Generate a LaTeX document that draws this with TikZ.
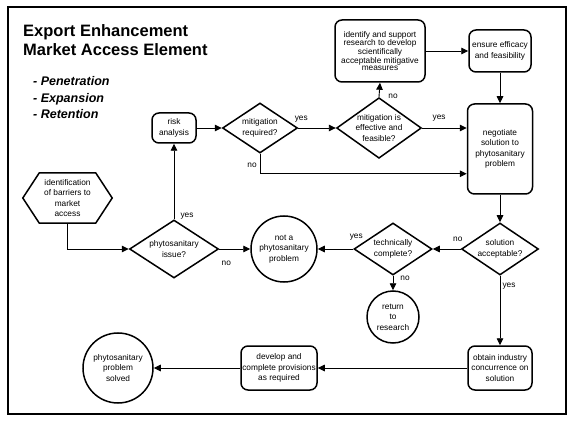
\documentclass[tikz,border=0pt]{standalone}
\usepackage{fontspec}
\setmainfont{Liberation Sans}
\usetikzlibrary{arrows.meta, positioning, calc, shapes.geometric}

\newcommand{\flowfont}{\fontsize{8.3}{10.5}\selectfont}
\newcommand{\tightfont}{\fontsize{8.3}{7.6}\selectfont}

\begin{document}
\begin{tikzpicture}[
    x=1pt, y=-1pt,
    box/.style={rectangle, rounded corners=7pt, draw=black, line width=1.5pt, align=center, inner sep=0pt, font=\flowfont},
    decision/.style={diamond, draw=black, line width=1.5pt, align=center, inner sep=0pt, shape aspect=1.4, font=\flowfont},
    terminal/.style={circle, draw=black, line width=1.5pt, align=center, inner sep=0pt, font=\flowfont},
    arrow/.style={-{Triangle[length=7pt, width=6.5pt]}, line width=0.9pt},
    branch_label/.style={font=\flowfont, inner sep=1pt},
    title_text/.style={anchor=base west, font=\fontsize{16.5}{19}\selectfont\bfseries, inner sep=0pt},
    list_text/.style={anchor=base west, font=\fontsize{12.5}{14}\selectfont\bfseries\itshape, inner sep=0pt}
]
    % ========== PAGE AND FRAME ==========
    \fill[white] (0,0) rectangle (573,422);
    \useasboundingbox (0,0) rectangle (573,422);
    \draw[line width=1.2pt] (8,7) rectangle (566,414);

    % Title and list
    \node[title_text] (title_a) at (23,37) {Export Enhancement};
    \node[title_text] (title_b) at (23,56) {Market Access Element};
    \node[list_text] (item_a) at (33,86) {- Penetration};
    \node[list_text] (item_b) at (33,102.5) {- Expansion};
    \node[list_text] (item_c) at (33,119) {- Retention};

    % ========== TOP ROW ==========
    \node[box, minimum width=44pt, minimum height=30pt] (risk_box) at (174,128) {risk\\analysis};
    \node[decision, minimum width=75pt, minimum height=50pt] (mit_req) at (260,128) {mitigation\\required?};
    \node[decision, minimum width=82pt, minimum height=60pt] (mit_eff) at (379,128) {mitigation is\\effective and\\feasible?};
    \node[box, minimum width=90pt, minimum height=62pt, font=\tightfont] (research_box) at (380,51) {identify and support\\research to develop\\scientifically\\acceptable mitigative\\measures};
    \node[box, minimum width=62pt, minimum height=42pt] (ensure_box) at (500,51) {ensure efficacy\\and feasibility};
    \node[box, minimum width=65pt, minimum height=90pt] (negotiate_box) at (500,149) {negotiate\\solution to\\phytosanitary\\problem};

    % ========== MIDDLE ROW ==========
    \node[rectangle, minimum width=89pt, minimum height=50pt, align=center, inner sep=0pt, font=\flowfont] (barriers_hex) at (67.5,198) {identification\\of barriers to\\market\\access};
    \draw[line width=1.5pt] (barriers_hex.west) -- ($(barriers_hex.north west)+(16.5,0)$) -- ($(barriers_hex.north east)+(-16.5,0)$) -- (barriers_hex.east) -- ($(barriers_hex.south east)+(-16.5,0)$) -- ($(barriers_hex.south west)+(16.5,0)$) -- cycle;
    \node[decision, minimum width=89pt, minimum height=58pt] (phyto_issue) at (174,249) {phytosanitary\\issue?};
    \node[terminal, minimum size=66pt] (not_phyto) at (284,249) {not a\\phytosanitary\\problem};
    \node[decision, minimum width=78pt, minimum height=52pt] (tech_complete) at (393,249) {technically\\complete?};
    \node[decision, minimum width=77pt, minimum height=52pt] (sol_accept) at (500,249) {solution\\acceptable?};
    \node[terminal, minimum size=52pt] (return_circle) at (393,317) {return\\to\\research};

    % ========== BOTTOM ROW ==========
    \node[box, minimum width=64pt, minimum height=44pt] (obtain_box) at (500,368) {obtain industry\\concurrence on\\solution};
    \node[box, minimum width=76pt, minimum height=44pt] (develop_box) at (279,368) {develop and\\complete provisions\\as required};
    \node[terminal, minimum size=70pt] (solved_circle) at (118,368) {phytosanitary\\problem\\solved};

    % ========== CONNECTORS ==========
    \coordinate (neg_in_low) at ($(negotiate_box.south west)+(0,-21)$);
    \draw[arrow] (risk_box) -- (mit_req);
    \draw[arrow] (mit_req) -- (mit_eff);
    \draw[arrow] (mit_eff.east) -- (mit_eff.east -| negotiate_box.west);
    \draw[arrow] (mit_eff.north) -- (research_box.south);
    \draw[arrow] (research_box) -- (ensure_box);
    \draw[arrow] (ensure_box) -- (negotiate_box);
    \draw[arrow] (mit_req.south) |- (neg_in_low);
    \draw[arrow] (barriers_hex.south) |- (phyto_issue.west);
    \draw[arrow] (phyto_issue.north) -- (risk_box.south);
    \draw[arrow] (phyto_issue) -- (not_phyto);
    \draw[arrow] (negotiate_box) -- (sol_accept);
    \draw[arrow] (sol_accept) -- (tech_complete);
    \draw[arrow] (tech_complete) -- (not_phyto);
    \draw[arrow] (tech_complete) -- (return_circle);
    \draw[arrow] (sol_accept) -- (obtain_box);
    \draw[arrow] (obtain_box) -- (develop_box);
    \draw[arrow] (develop_box) -- (solved_circle);

    % Branch labels
    \node[branch_label] at ($(mit_req.east)+(3,-9)$) {yes};
    \node[branch_label] at ($(mit_req.south)+(-8,12)$) {no};
    \node[branch_label] at ($(mit_eff.east)+(17,-10)$) {yes};
    \node[branch_label] at ($(mit_eff.north)+(14,-1)$) {no};
    \node[branch_label] at ($(phyto_issue.north)+(13,-3)$) {yes};
    \node[branch_label] at ($(phyto_issue.east)+(7,14)$) {no};
    \node[branch_label] at ($(tech_complete.west)+(3,-12)$) {yes};
    \node[branch_label] at ($(tech_complete.south)+(12,3)$) {no};
    \node[branch_label] at ($(sol_accept.west)+(-3,-10)$) {no};
    \node[branch_label] at ($(sol_accept.south)+(9,10)$) {yes};

\end{tikzpicture}
\end{document}
